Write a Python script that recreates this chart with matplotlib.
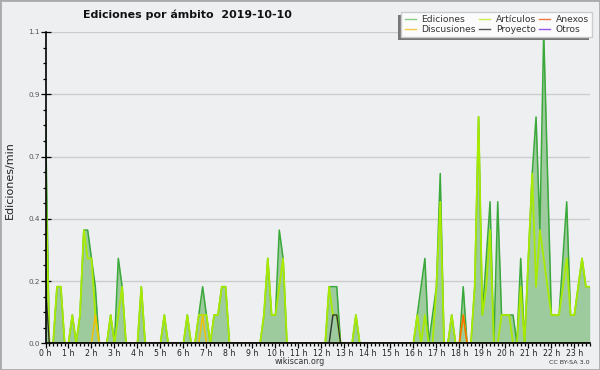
import numpy as np
import matplotlib
matplotlib.use("Agg")
import matplotlib.pyplot as plt
from matplotlib.lines import Line2D
from matplotlib.patches import Rectangle
from matplotlib.ticker import FixedLocator, MultipleLocator

plt.rcParams['font.family'] = ['DejaVu Sans']

title = "Ediciones por ámbito  2019-10-10"
hour_labels = [f"{h} h" for h in range(24)]

# edits per minute, one value per 10-minute bin (0:00 .. 23:40)
ediciones = [
    0.8, 0, 0, 0.2, 0.2, 0, 0, 0.1, 0, 0.1, 0.4, 0.4,
    0.3, 0.2, 0, 0, 0, 0.1, 0, 0.3, 0.2, 0, 0, 0,
    0, 0.2, 0, 0, 0, 0, 0, 0.1, 0, 0, 0, 0,
    0, 0.1, 0, 0, 0.1, 0.2, 0.1, 0, 0.1, 0.1, 0.2, 0.2,
    0, 0, 0, 0, 0, 0, 0, 0, 0, 0.1, 0.3, 0.1,
    0.1, 0.4, 0.3, 0, 0, 0, 0, 0, 0, 0, 0, 0,
    0, 0, 0.2, 0.2, 0.2, 0, 0, 0, 0, 0.1, 0, 0,
    0, 0, 0, 0, 0, 0, 0, 0, 0, 0, 0, 0,
    0, 0.1, 0.2, 0.3, 0, 0.1, 0.2, 0.6, 0, 0, 0.1, 0,
    0, 0.2, 0, 0, 0.2, 0.8, 0.1, 0.3, 0.5, 0, 0.5, 0.1,
    0.1, 0.1, 0.1, 0, 0.3, 0, 0.3, 0.6, 0.8, 0.4, 1.1, 0.6,
    0.1, 0.1, 0.1, 0.3, 0.5, 0.1, 0.1, 0.2, 0.3, 0.2, 0.2,
]
articulos = [
    0.6, 0, 0, 0.2, 0.2, 0, 0, 0.1, 0, 0.1, 0.4, 0.3,
    0.3, 0.1, 0, 0, 0, 0.1, 0, 0.1, 0.2, 0, 0, 0,
    0, 0.2, 0, 0, 0, 0, 0, 0.1, 0, 0, 0, 0,
    0, 0.1, 0, 0, 0.1, 0.1, 0.1, 0, 0.1, 0.1, 0.2, 0.2,
    0, 0, 0, 0, 0, 0, 0, 0, 0, 0.1, 0.3, 0.1,
    0.1, 0.2, 0.3, 0, 0, 0, 0, 0, 0, 0, 0, 0,
    0, 0, 0.2, 0.1, 0.1, 0, 0, 0, 0, 0.1, 0, 0,
    0, 0, 0, 0, 0, 0, 0, 0, 0, 0, 0, 0,
    0, 0.1, 0, 0.1, 0, 0, 0.2, 0.5, 0, 0, 0.1, 0,
    0, 0.1, 0, 0, 0.2, 0.8, 0.1, 0.2, 0.4, 0, 0, 0.1,
    0.1, 0.1, 0, 0, 0.2, 0, 0.3, 0.6, 0.2, 0.4, 0.3, 0.2,
    0.1, 0.1, 0.1, 0.2, 0.3, 0.1, 0.1, 0.2, 0.3, 0.2, 0.2,
]
# sparse series: bin index -> edits per minute
discusiones = {13: 0.1, 41: 0.1}
anexos = {109: 0.1}
proyecto = {0: 0.2, 75: 0.1, 76: 0.1}
otros = {}

BG = '#eeeff1'
n = len(ediciones)
t = np.arange(n) / 6.0


def dense(d):
    a = np.zeros(n)
    for k, v in d.items():
        a[k] = v
    return a


fig = plt.figure(figsize=(6, 3.7), dpi=100, facecolor=BG)
ax = fig.add_axes([45.5 / 600, 26.7 / 370, 544.2 / 600, 311.3 / 370])
ax.set_facecolor(BG)

ax.fill_between(t, ediciones, color='#9dcb9d', lw=0, zorder=2)
ax.plot(t, ediciones, color='#3aa83a', lw=1.1, zorder=3)
ax.plot(t, articulos, color='#a8ea00', lw=1.3, zorder=4)
ax.plot(t, dense(discusiones), color='#f2c200', lw=1.1, zorder=5)
ax.plot(t, dense(anexos), color='#ff6a00', lw=1.1, zorder=5)
ax.plot(t, dense(proyecto), color='#333333', lw=1.0, zorder=5)
ax.plot(t, dense(otros), color='#9933ff', lw=1.0, zorder=5)

ymax = max(ediciones)
ax.set_xlim(0, t[-1])
ax.set_ylim(0, ymax)
yt = np.linspace(0, ymax, 6)
ax.yaxis.set_major_locator(FixedLocator(yt))
ax.set_yticklabels([f"{v:.1f}" for v in yt])
ax.yaxis.set_minor_locator(FixedLocator(np.linspace(0, ymax, 21)))
ax.set_xticks(range(24))
ax.set_xticklabels(hour_labels)
ax.xaxis.set_minor_locator(MultipleLocator(1 / 6))
ax.grid(axis='y', which='major', color='#cccccc', lw=1)
ax.set_axisbelow(True)

for s in ['top', 'right']:
    ax.spines[s].set_visible(False)
for s in ['left', 'bottom']:
    ax.spines[s].set_linewidth(1.2)
    ax.spines[s].set_zorder(10)

ax.tick_params(axis='x', which='major', direction='out', length=3.6, width=0.9,
               labelsize=5.6, pad=0.6, labelcolor='#222222')
ax.tick_params(axis='x', which='minor', direction='out', length=2.2, width=0.9)
ax.tick_params(axis='y', which='major', direction='inout', length=6.5, width=0.9,
               labelsize=5.2, pad=0.8, labelcolor='#555555')
ax.tick_params(axis='y', which='minor', direction='out', length=2.2, width=0.9)

fig.text(187.5 / 600, 1 - 15 / 370, title, ha='center', va='center',
         fontsize=7.9, fontweight='bold', color='#111111')
fig.text(10 / 600, 1 - 180 / 370, 'Ediciones/min', rotation=90,
         ha='center', va='center', fontsize=8, color='#222222')
fig.text(300 / 600, 1 - 362 / 370, 'wikiscan.org', ha='center', va='center',
         fontsize=5.8, color='#333333')
fig.text(590 / 600, 1 - 362.5 / 370, 'CC BY-SA 3.0', ha='right', va='center',
         fontsize=4.6, color='#333333')

names = ['Ediciones', 'Discusiones', 'Artículos', 'Proyecto', 'Anexos', 'Otros']
key_colors = ['#88cc88', '#f5c84a', '#ccee55', '#555555', '#ee7744', '#9955ee']
handles = [Line2D([], [], color=c, lw=1) for c in key_colors]
leg = fig.legend(handles, names, ncol=3, loc='upper right',
                 bbox_to_anchor=(592 / 600, 1 - 12 / 370), frameon=True,
                 fancybox=False, facecolor='#fbfbfb', edgecolor='#cccccc',
                 framealpha=1, fontsize=6.6, handlelength=1.25, handletextpad=0.6,
                 columnspacing=0.3, labelspacing=0.1, borderpad=0.35,
                 borderaxespad=0)
for txt in leg.get_texts():
    txt.set_color('#333333')

fig.canvas.draw()
bb = leg.get_window_extent().transformed(fig.transFigure.inverted())
fig.add_artist(Rectangle((bb.x0 - 3 / 600, bb.y0 - 3 / 370), bb.width, bb.height,
                         transform=fig.transFigure, facecolor='#777777',
                         edgecolor='none', zorder=4))
leg.set_zorder(5)
fig.add_artist(Rectangle((0, 0), 1, 1, transform=fig.transFigure, fill=False,
                         edgecolor='#aaaaaa', lw=2))

fig.savefig('out.png', dpi=100, facecolor=BG)
